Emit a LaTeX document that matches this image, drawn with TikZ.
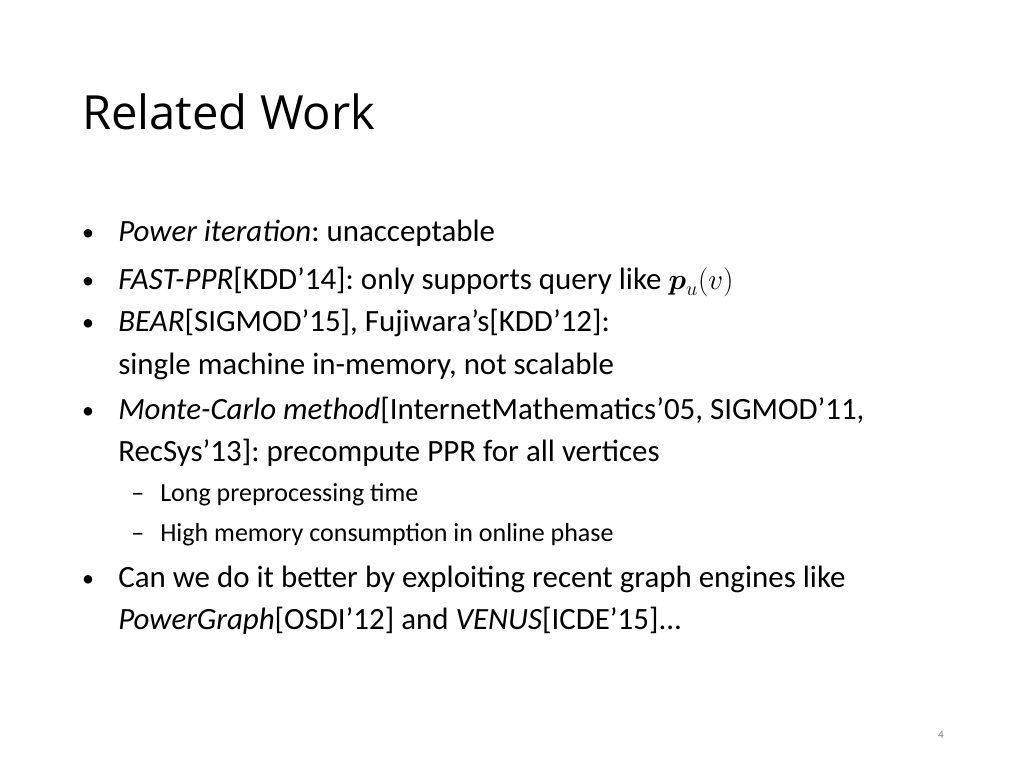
\documentclass[tikz,border=0pt]{standalone}
\usepackage{amsmath}
\usepackage{amssymb}
\usepackage{fontspec}
\setmainfont{Carlito}
\newfontfamily\titlefont{Open Sans}
\usetikzlibrary{positioning}
\frenchspacing

\tikzset{
  item/.style={anchor=base west, inner sep=0pt, font=\fontsize{22}{26}\selectfont},
  subitem/.style={anchor=base west, inner sep=0pt, font=\fontsize{18.5}{22}\selectfont},
  dot/.style={anchor=base, inner sep=0pt, font=\fontsize{17}{20}\selectfont}
}

\begin{document}
\begin{tikzpicture}[x=0.025cm,y=-0.025cm]
\useasboundingbox (0,0) rectangle (1024,768);
\node[anchor=base west, inner sep=0pt, font=\titlefont\fontsize{33.5}{40}\selectfont] (title) at (82,130) {Related Work};
% bullets
\foreach \yy in {240,288,330,418,586}
  \node[dot] at (88,\yy) {\textbullet};
\node[item] (power) at (118,241) {\textit{Power iteration}: unacceptable};
\node[item] (fast) at (118,289) {\textit{FAST-PPR}[KDD'14]: only supports query like $\boldsymbol{p}_u(v)$};
\node[item] (bear) at (118,331) {\textit{BEAR}[SIGMOD'15], Fujiwara's[KDD'12]:};
\node[item] (bear2) at (118,374) {single machine in-memory, not scalable};
\node[item] (mc) at (118,419) {\textit{Monte-Carlo method}[InternetMathematics'05, SIGMOD'11,};
\node[item] (mc2) at (118,461) {RecSys'13]: precompute PPR for all vertices};
% sub items
\node[subitem] at (131,501) {--};
\node[subitem] (long) at (160,501) {Long preprocessing time};
\node[subitem] at (131,541) {--};
\node[subitem] (mem) at (160,541) {High memory consumption in online phase};
\node[item] (can) at (118,587) {Can we do it better by exploiting recent graph engines like};
\node[item] (can2) at (118,629) {\textit{PowerGraph}[OSDI'12] and \textit{VENUS}[ICDE'15]...};
\node[anchor=base east, inner sep=0pt, font=\fontsize{8}{10}\selectfont, text=gray] (page) at (944,738) {4};
\end{tikzpicture}
\end{document}
